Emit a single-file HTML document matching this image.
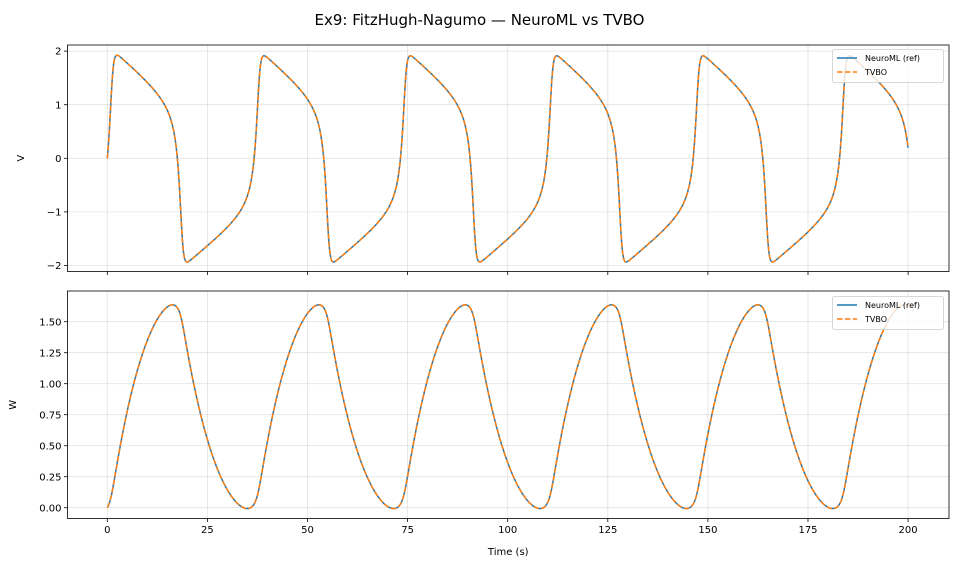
<!DOCTYPE html>
<html><head><meta charset="utf-8"><style>
html,body{margin:0;padding:0;background:#fff}
svg{display:block;font-family:"DejaVu Sans","Liberation Sans",sans-serif}
</style></head><body>
<svg id="s" width="959" height="569" viewBox="0 0 959 569" xmlns="http://www.w3.org/2000/svg">
<rect width="959" height="569" fill="#fff"/>
<text x="479.5" y="25" font-size="15" text-anchor="middle">Ex9: FitzHugh-Nagumo — NeuroML vs TVBO</text>
<g id="g"></g>
</svg>
<script>
var NS="http://www.w3.org/2000/svg",g=document.getElementById('g');
function el(t,a,txt){var e=document.createElementNS(NS,t);for(var k in a)e.setAttribute(k,a[k]);if(txt!==undefined)e.textContent=txt;g.appendChild(e);return e;}
var X0=107.3,XS=4.004,L=67.5,R=949;
function sx(t){return X0+t*XS;}
function sim(I,eps,T,dt){var a=0.7,b=0.8,v=0,w=0,out=[[0,0,0]];var n=Math.round(T/dt);
function f(v,w){return [v-v*v*v/3-w+I,eps*(v+a-b*w)];}
for(var i=1;i<=n;i++){var k1=f(v,w),k2=f(v+dt/2*k1[0],w+dt/2*k1[1]),k3=f(v+dt/2*k2[0],w+dt/2*k2[1]),k4=f(v+dt*k3[0],w+dt*k3[1]);
v+=dt/6*(k1[0]+2*k2[0]+2*k3[0]+k4[0]);w+=dt/6*(k1[1]+2*k2[1]+2*k3[1]+k4[1]);out.push([i*dt,v,w]);}return out;}
function score(I,eps){var d=sim(I,eps,60,0.02),downs=[],ups=[],wmax=-9,wmin=9;
for(var i=1;i<d.length;i++){if(d[i-1][1]>0&&d[i][1]<=0)downs.push(d[i][0]);if(d[i-1][1]<0&&d[i][1]>=0)ups.push(d[i][0]);
if(d[i][0]>5){wmax=Math.max(wmax,d[i][2]);wmin=Math.min(wmin,d[i][2]);}}
if(downs.length<2||ups.length<1)return 1e9;
return Math.abs(downs[0]-17.7)+Math.abs(downs[1]-54.6)+Math.abs(ups[0]-36.9)+20*Math.abs(wmax-1.63)+20*Math.abs(wmin+0.01);}
var best=[0.8,0.08],bs=1e18;
for(var I=0.5;I<=1.1;I+=0.05)for(var e=0.04;e<=0.12;e+=0.005){var s=score(I,e);if(s<bs){bs=s;best=[I,e];}}
var b0=best.slice();
for(var I=b0[0]-0.05;I<=b0[0]+0.05;I+=0.01)for(var e=b0[1]-0.005;e<=b0[1]+0.005;e+=0.001){var s=score(I,e);if(s<bs){bs=s;best=[I,e];}}
var K=0.9915;
var D=sim(best[0],best[1],204,0.02).map(function(r){return [r[0]*K,r[1],r[2]];}).filter(function(r){return r[0]<=200.001;});
function panel(top,bot,ys,ticks,lab,labx,key,lgy){
 [0,25,50,75,100,125,150,175,200].forEach(function(t){el('line',{x1:sx(t),x2:sx(t),y1:top,y2:bot,stroke:'#b0b0b0','stroke-opacity':0.35,'stroke-width':0.8});});
 ticks.forEach(function(v){var y=ys(v[0]);el('line',{x1:L,x2:R,y1:y,y2:y,stroke:'#b0b0b0','stroke-opacity':0.35,'stroke-width':0.8});
  el('line',{x1:L-3.5,x2:L,y1:y,y2:y,stroke:'#000','stroke-width':0.8});
  el('text',{x:L-6,y:y+3.6,'font-size':10,'text-anchor':'end'},v[1]);});
 var p='';for(var i=0;i<D.length;i+=2){p+=(i?'L':'M')+sx(D[i][0]).toFixed(2)+' '+ys(D[i][key]).toFixed(2);}
 var l=D[D.length-1];p+='L'+sx(l[0]).toFixed(2)+' '+ys(l[key]).toFixed(2);
 el('path',{d:p,fill:'none',stroke:'#1f77b4','stroke-width':1.5});
 el('path',{d:p,fill:'none',stroke:'#ff7f0e','stroke-width':1.5,'stroke-dasharray':'5.5 2.4'});
 el('rect',{x:L,y:top,width:R-L,height:bot-top,fill:'none',stroke:'#000','stroke-width':0.8});
 [0,25,50,75,100,125,150,175,200].forEach(function(t){el('line',{x1:sx(t),x2:sx(t),y1:bot,y2:bot+3.5,stroke:'#000','stroke-width':0.8});});
 el('text',{x:labx,y:(top+bot)/2,'font-size':10,'text-anchor':'middle',transform:'rotate(-90 '+labx+' '+(top+bot)/2+')'},lab);
 el('rect',{x:832.5,y:lgy,width:111,height:33,rx:2,fill:'#fff','fill-opacity':0.8,stroke:'#ccc','stroke-width':0.8});
 el('line',{x1:837,x2:857,y1:lgy+8.5,y2:lgy+8.5,stroke:'#1f77b4','stroke-width':1.5});
 el('line',{x1:837,x2:857,y1:lgy+22.5,y2:lgy+22.5,stroke:'#ff7f0e','stroke-width':1.5,'stroke-dasharray':'5.5 2.4'});
 el('text',{x:865,y:lgy+11.5,'font-size':8},'NeuroML (ref)');
 el('text',{x:865,y:lgy+25.5,'font-size':8},'TVBO');
}
panel(45,271.5,function(v){return 158.3-v*53.6;},[[2,'2'],[1,'1'],[0,'0'],[-1,'−1'],[-2,'−2']],'V',24,1,49.5);
panel(291,518.5,function(v){return 507.7-v*124;},[[0,'0.00'],[0.25,'0.25'],[0.5,'0.50'],[0.75,'0.75'],[1,'1.00'],[1.25,'1.25'],[1.5,'1.50']],'W',16,2,296.5);
[0,25,50,75,100,125,150,175,200].forEach(function(t){el('text',{x:sx(t),y:533,'font-size':10,'text-anchor':'middle'},String(t));});
el('text',{x:(L+R)/2,y:555,'font-size':10,'text-anchor':'middle'},'Time (s)');
</script>
</body></html>
